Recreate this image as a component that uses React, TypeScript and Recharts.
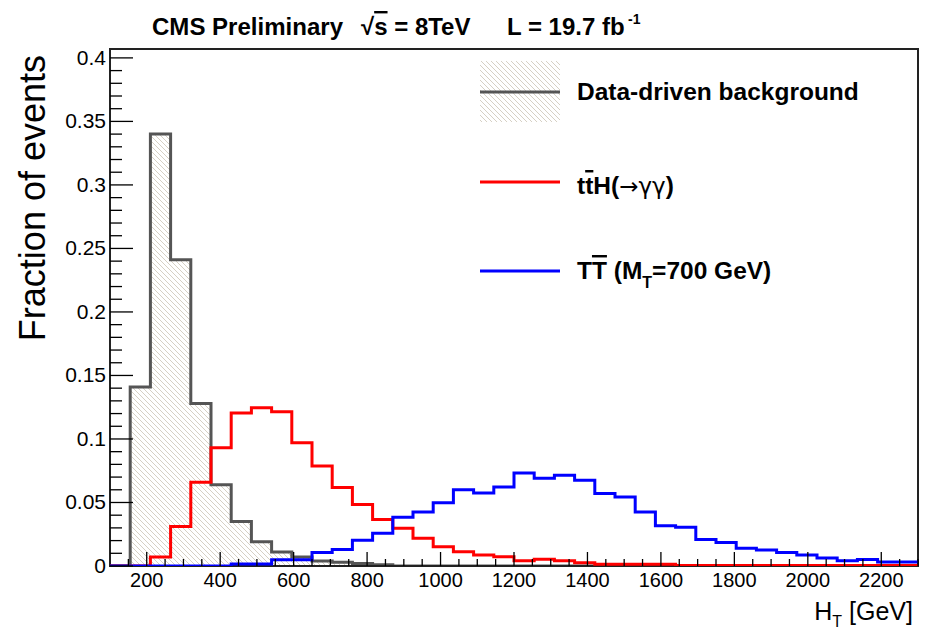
import React from 'react';
import { ComposedChart, Area, Line, XAxis, YAxis, ReferenceArea, Legend } from 'recharts';

// 40 bins of 55 GeV from 100 to 2300 GeV (lower edges)
const binLowEdges = [
  100, 155, 210, 265, 320, 375, 430, 485, 540, 595,
  650, 705, 760, 815, 870, 925, 980, 1035, 1090, 1145,
  1200, 1255, 1310, 1365, 1420, 1475, 1530, 1585, 1640, 1695,
  1750, 1805, 1860, 1915, 1970, 2025, 2080, 2135, 2190, 2245,
];
const rangeEnd = 2300;

const dataDriven = [
  0, 0.141, 0.340, 0.241, 0.128, 0.064, 0.035, 0.019, 0.011, 0.007,
  0.004, 0.003, 0.002, 0.001, 0, 0, 0, 0, 0, 0,
  0, 0, 0, 0, 0, 0, 0, 0, 0, 0,
  0, 0, 0, 0, 0, 0, 0, 0, 0, 0,
];
const ttH = [
  0, 0, 0.007, 0.031, 0.066, 0.093, 0.1205, 0.1245, 0.1215, 0.097,
  0.0787, 0.0617, 0.0484, 0.0367, 0.0298, 0.0219, 0.0152, 0.0112, 0.0086, 0.0073,
  0.0041, 0.0053, 0.0042, 0.0026, 0.0013, 0.0013, 0.0013, 0.0013, 0.0003, 0.0003,
  0.0003, 0.0003, 0.0003, 0.0003, 0.0003, 0.0003, 0.0003, 0.0003, 0.0003, 0.0003,
];
const TT700 = [
  0, 0, 0, 0, 0, 0, 0.0016, 0.0016, 0.005, 0.005,
  0.0106, 0.013, 0.0202, 0.0258, 0.0384, 0.0425, 0.0497, 0.06, 0.0575, 0.0622,
  0.0732, 0.069, 0.0714, 0.0675, 0.057, 0.0544, 0.0426, 0.0316, 0.0306, 0.0208,
  0.0185, 0.0139, 0.0125, 0.0107, 0.0086, 0.0063, 0.0042, 0.0052, 0.0031, 0.0031,
];

const xMajorTicks = [200, 400, 600, 800, 1000, 1200, 1400, 1600, 1800, 2000, 2200];
const xMinorStep = 50;
const yMajorTicks = [0, 0.05, 0.1, 0.15, 0.2, 0.25, 0.3, 0.35, 0.4];
const yTickLabels = ['0', '0.05', '0.1', '0.15', '0.2', '0.25', '0.3', '0.35', '0.4'];
const yMinorStep = 0.01;
const yMax = 0.407;

const FONT = '"Liberation Sans", Arial, Helvetica, sans-serif';
const SYMFONT = '"DejaVu Sans", "Liberation Sans", sans-serif';

const data = binLowEdges.map((x, i) => ({ x, bg: dataDriven[i], tth: ttH[i], tt: TT700[i] }));
data.push({
  x: rangeEnd,
  bg: dataDriven[dataDriven.length - 1],
  tth: ttH[ttH.length - 1],
  tt: TT700[TT700.length - 1],
});

const xTicks: number[] = [];
for (let v = 150; v <= rangeEnd; v += xMinorStep) xTicks.push(v);
const yTicks: number[] = [];
for (let i = 0; i <= 40; i++) yTicks.push(Math.round(i * yMinorStep * 1000) / 1000);

const XTick = (props: any) => {
  const { x, y, payload } = props;
  const v = payload.value;
  const major = xMajorTicks.includes(v);
  return (
    <g>
      <line x1={x} x2={x} y1={y} y2={y - (major ? 14 : 7)} stroke="#000" strokeWidth={1.3} />
      {major && (
        <text x={x} y={y + 21} textAnchor="middle" fontSize={20} fontFamily={FONT} fill="#000">
          {v}
        </text>
      )}
    </g>
  );
};

const YTick = (props: any) => {
  const { x, y, payload } = props;
  const v = payload.value;
  const idx = yMajorTicks.findIndex((m) => Math.abs(m - v) < 1e-6);
  const major = idx >= 0;
  return (
    <g>
      <line x1={x} x2={x + (major ? 23 : 12)} y1={y} y2={y} stroke="#000" strokeWidth={1.3} />
      {major && (
        <text x={x - 4} y={y + 7} textAnchor="end" fontSize={21} fontFamily={FONT} fill="#000">
          {yTickLabels[idx]}
        </text>
      )}
    </g>
  );
};

const HatchDef = ({ id }: { id: string }) => (
  <pattern id={id} width="5" height="5" patternUnits="userSpaceOnUse">
    <rect width="5" height="5" fill="#fff" />
    <path d="M0,0 L5,5 M-1,4 L1,6 M4,-1 L6,1" stroke="#c4bcab" strokeWidth="0.7" />
  </pattern>
);

const LegendContent = () => (
  <svg width={926} height={634} style={{ position: 'absolute', left: 0, top: 0 }}>
    <defs>
      <HatchDef id="hatchLegend" />
    </defs>
    <rect x={480} y={61} width={80} height={61} fill="url(#hatchLegend)" />
    <line x1={480} x2={560} y1={92} y2={92} stroke="#555" strokeWidth={3} />
    <text x={577} y={100} fontSize={24.5} fontWeight="bold" fontFamily={FONT} fill="#000">
      Data-driven background
    </text>
    <line x1={480} x2={560} y1={182} y2={182} stroke="#ff0000" strokeWidth={3} />
    <text x={577} y={194} fontSize={24.5} fontWeight="bold" fontFamily={FONT} fill="#000">
      t<tspan style={{ textDecoration: 'overline' }}>t</tspan>H(
      <tspan fontWeight="normal" fontFamily={SYMFONT} fontSize={23}>→γγ</tspan>)
    </text>
    <line x1={480} x2={560} y1={271} y2={271} stroke="#0000ff" strokeWidth={3} />
    <text x={577} y={279} fontSize={24.5} fontWeight="bold" fontFamily={FONT} fill="#000">
      T<tspan style={{ textDecoration: 'overline' }}>T</tspan> (M
      <tspan fontSize={16} dy={9}>T</tspan>
      <tspan dy={-9}>=700 GeV)</tspan>
    </text>
  </svg>
);

export default function App() {
  return (
    <div style={{ position: 'absolute', left: 0, top: 0, width: 926, height: 634, background: '#fff' }}>
      <ComposedChart
        width={926}
        height={634}
        data={data}
        margin={{ top: 49, right: 8, bottom: 0, left: 0 }}
      >
        <defs>
          <HatchDef id="hatch" />
        </defs>
        <Area
          type="stepAfter"
          dataKey="bg"
          stroke="#555"
          strokeWidth={3}
          fill="url(#hatch)"
          fillOpacity={1}
          isAnimationActive={false}
          dot={false}
          activeDot={false}
        />
        <Line type="stepAfter" dataKey="tth" stroke="#ff0000" strokeWidth={3} dot={false} activeDot={false} isAnimationActive={false} />
        <Line type="stepAfter" dataKey="tt" stroke="#0000ff" strokeWidth={3} dot={false} activeDot={false} isAnimationActive={false} />
        <XAxis
          dataKey="x"
          type="number"
          domain={[100, rangeEnd]}
          ticks={xTicks}
          interval={0}
          tick={<XTick />}
          tickSize={0}
          tickMargin={0}
          tickLine={false}
          axisLine={false}
          height={68}
          allowDataOverflow
        />
        <YAxis
          type="number"
          domain={[0, yMax]}
          ticks={yTicks}
          interval={0}
          tick={<YTick />}
          tickSize={0}
          tickMargin={0}
          tickLine={false}
          axisLine={false}
          width={110}
          allowDataOverflow
        />
        <ReferenceArea
          x1={100}
          x2={rangeEnd}
          y1={0}
          y2={yMax}
          fill="none"
          fillOpacity={0}
          stroke="#222"
          strokeWidth={2}
          ifOverflow="visible"
        />
        <Legend
          layout="horizontal"
          verticalAlign="middle"
          align="center"
          wrapperStyle={{ position: 'absolute', left: 0, top: 0, width: 926, height: 634, pointerEvents: 'none' }}
          content={<LegendContent />}
        />
      </ComposedChart>
      <svg
        width={926}
        height={634}
        style={{ position: 'absolute', left: 0, top: 0, pointerEvents: 'none' }}
      >
        <text y={35} fontSize={24} fontWeight="bold" fontFamily={FONT} fill="#000">
          <tspan x={152} textLength={191} lengthAdjust="spacingAndGlyphs">CMS Preliminary</tspan>
          <tspan x={361}>√</tspan>
          <tspan style={{ textDecoration: 'overline' }}>s</tspan>
          <tspan> = 8TeV</tspan>
          <tspan x={507}>L = 19.7 fb</tspan>
          <tspan x={628} dy={-11} fontSize={14}>-1</tspan>
        </text>
        <text
          transform="translate(45, 55) rotate(-90)"
          textAnchor="end"
          fontSize={36}
          fontFamily={FONT}
          fill="#000"
        >
          Fraction of events
        </text>
        <text x={913} y={620} textAnchor="end" fontSize={25} fontFamily={FONT} fill="#000">
          H<tspan fontSize={16} dy={7}>T</tspan>
          <tspan dy={-7}> [GeV]</tspan>
        </text>
      </svg>
    </div>
  );
}
